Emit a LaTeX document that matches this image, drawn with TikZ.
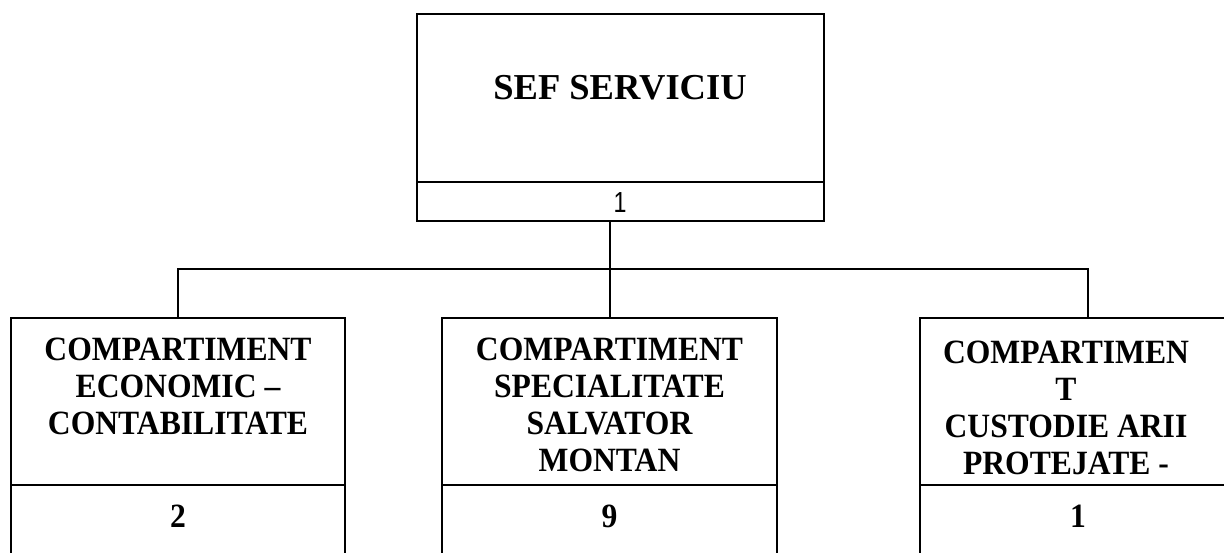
\documentclass[tikz,border=0pt]{standalone}
\usepackage{fontspec}
\setmainfont{Liberation Serif}
\newfontfamily\boxfont[FakeStretch=0.93,Ligatures=TeX]{Liberation Serif}
\newfontfamily\numfont[FakeStretch=0.8]{Liberation Sans}
\begin{document}
\begin{tikzpicture}[x=1pt,y=-1pt,line width=2pt,
  boxshape/.style={draw, rectangle, inner sep=0pt, line width=2pt},
  link/.style={draw, line width=2pt},
  title/.style={inner sep=0pt, align=center, font=\boxfont\bfseries\fontsize{34}{37}\selectfont},
  count/.style={inner sep=0pt, anchor=base, font=\boxfont\bfseries\fontsize{34}{37}\selectfont}]
\clip (0,0) rectangle (1224,552);
% top box
\node[boxshape, minimum width=407pt, minimum height=168pt] (sef) at (620.5,98) {};
\node[boxshape, minimum width=407pt, minimum height=39pt] (sefn) at (620.5,201.5) {};
\node[inner sep=0pt, anchor=base, font=\bfseries\fontsize{36.5}{40}\selectfont] (sefT) at (620,99) {SEF SERVICIU};
\node[inner sep=0pt, anchor=base, font=\numfont\fontsize{29}{30}\selectfont] (sefC) at (620,212) {1};
% left box
\node[boxshape, minimum width=334pt, minimum height=167pt] (left) at (178,401.5) {};
\node[boxshape, minimum width=334pt, minimum height=135pt] (leftn) at (178,552.5) {};
\node[title, anchor=north] (leftT) at (178,336.5) {COMPARTIMENT\\ECONOMIC –\\CONTABILITATE};
\node[count] (leftC) at (178,527) {2};
% middle box
\node[boxshape, minimum width=335pt, minimum height=167pt] (mid) at (609.5,401.5) {};
\node[boxshape, minimum width=335pt, minimum height=135pt] (midn) at (609.5,552.5) {};
\node[title, anchor=north] (midT) at (609.5,336.5) {COMPARTIMENT\\SPECIALITATE\\SALVATOR\\MONTAN};
\node[count] (midC) at (609.5,527) {9};
% right box
\node[boxshape, minimum width=335pt, minimum height=167pt] (right) at (1087.5,401.5) {};
\node[boxshape, minimum width=335pt, minimum height=135pt] (rightn) at (1087.5,552.5) {};
\node[title, anchor=north] (rightT) at (1066,339.5) {COMPARTIMEN\\T\\CUSTODIE ARII\\PROTEJATE -};
\node[count] (rightC) at (1078,527) {1};
% connectors
\coordinate (bus) at (609.5,269);
\draw[link] (sefn.south -| mid.north) -- (mid.north);
\draw[link] (left.north) -- (left.north |- bus) -| (right.north);
\end{tikzpicture}
\end{document}
